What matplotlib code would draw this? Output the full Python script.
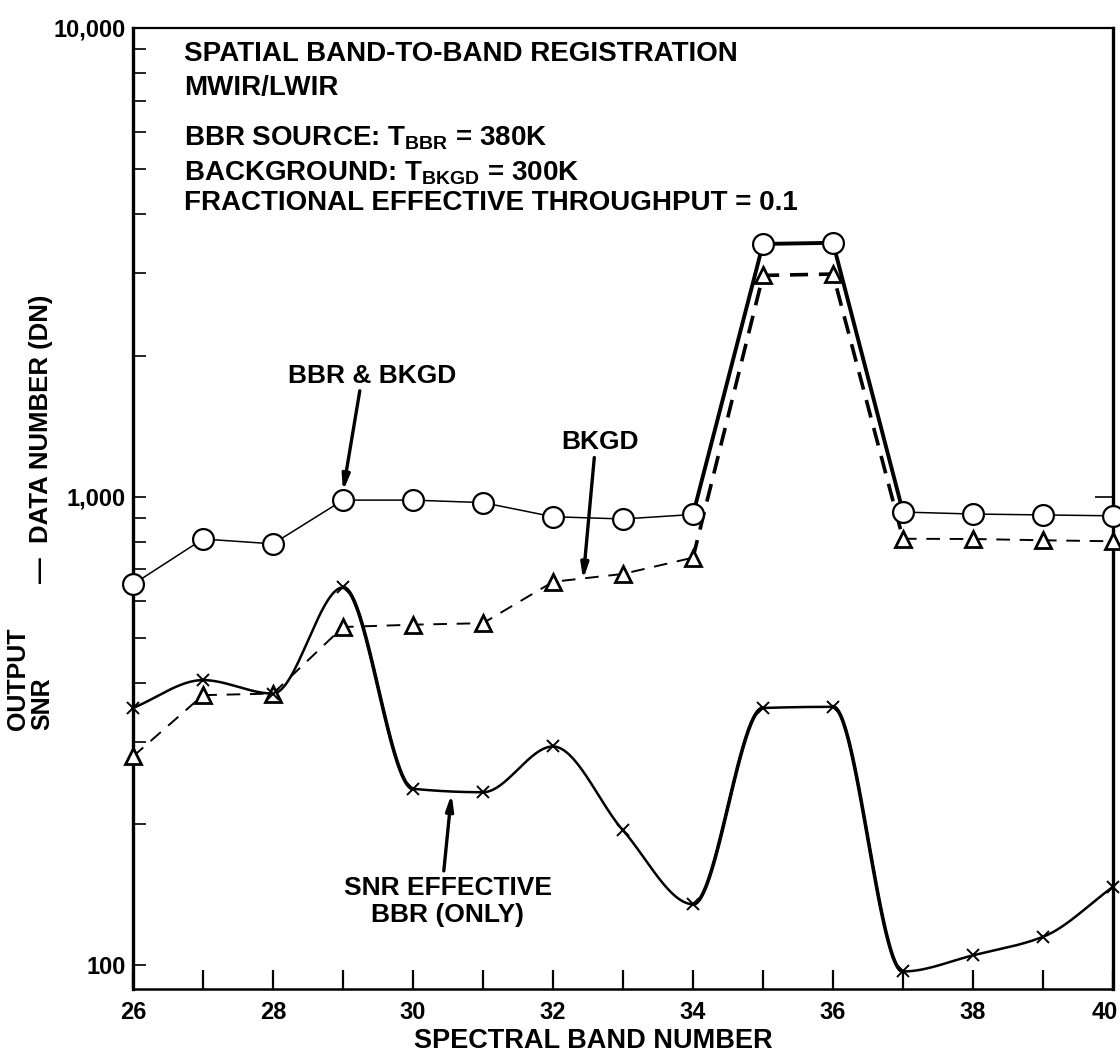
import numpy as np
import matplotlib
matplotlib.use("Agg")
import matplotlib.pyplot as plt
from matplotlib.ticker import FixedLocator, NullFormatter, NullLocator
from matplotlib.transforms import ScaledTranslation

plt.rcParams['font.family'] = ['Liberation Sans', 'DejaVu Sans']
plt.rcParams['font.weight'] = 'bold'

# spectral band numbers and the three output curves (DN / SNR)
bands = np.arange(26, 41)
bbr_bkgd = [650, 812, 793, 983, 983, 971, 906, 896, 916, 3461, 3480, 927, 918, 914, 910]
bkgd = [279, 377, 380, 527, 533, 537, 658, 684, 741, 2965, 2985, 813, 812, 807, 803]
snr = [354, 406, 380, 640, 238, 234, 293, 194, 135, 354, 356, 97, 105, 115, 147]

ytick_vals = [100, 1000, 10000]
ytick_text = ['100', '1,000', '10,000']
xtick_vals = [26, 28, 30, 32, 34, 36, 38, 40]

title_lines = [
    'SPATIAL BAND-TO-BAND REGISTRATION',
    'MWIR/LWIR',
    r'BBR SOURCE: T$_\mathregular{BBR}$ = 380K',
    r'BACKGROUND: T$_\mathregular{BKGD}$ = 300K',
    'FRACTIONAL EFFECTIVE THROUGHPUT = 0.1',
]


def pchip(x, y, xs):
    # monotone cubic through the points (Fritsch-Carlson slopes)
    x = np.asarray(x, float)
    y = np.asarray(y, float)
    h = np.diff(x)
    d = np.diff(y) / h
    m = np.zeros_like(y)
    m[0], m[-1] = d[0], d[-1]
    for i in range(1, len(x) - 1):
        if d[i - 1] * d[i] > 0:
            w1 = 2 * h[i] + h[i - 1]
            w2 = h[i] + 2 * h[i - 1]
            m[i] = (w1 + w2) / (w1 / d[i - 1] + w2 / d[i])
    idx = np.clip(np.searchsorted(x, xs) - 1, 0, len(x) - 2)
    t = (xs - x[idx]) / h[idx]
    h00 = 2 * t**3 - 3 * t**2 + 1
    h10 = t**3 - 2 * t**2 + t
    h01 = -2 * t**3 + 3 * t**2
    h11 = t**3 - t**2
    return (h00 * y[idx] + h10 * h[idx] * m[idx]
            + h01 * y[idx + 1] + h11 * h[idx] * m[idx + 1])


fig = plt.figure(figsize=(11.2, 10.52), dpi=100)
ax = fig.add_axes([0.11875, 0.0599, 0.875, 0.9135])
ax.set_yscale('log')
ax.set_xlim(26, 40)
ax.set_ylim(89, 10000)

# BBR & BKGD: thin solid, heavy over the 35-36 peak
ax.plot(bands[:9], bbr_bkgd[:9], color='k', lw=1.1, zorder=2)
ax.plot(bands[8:12], bbr_bkgd[8:12], color='k', lw=2.8, zorder=2)
ax.plot(bands[11:], bbr_bkgd[11:], color='k', lw=1.1, zorder=2)
ax.plot(bands, bbr_bkgd, ls='none', marker='o', ms=15, mfc='white',
        mec='k', mew=1.6, zorder=5, clip_on=False)

# BKGD: dashed
ax.plot(bands[:9], bkgd[:9], color='k', lw=1.4, dashes=(7, 5), zorder=2)
ax.plot(bands[8:12], bkgd[8:12], color='k', lw=2.6, dashes=(5, 3), zorder=2)
ax.plot(bands[11:], bkgd[11:], color='k', lw=1.4, dashes=(7, 5), zorder=2)
ax.plot(bands, bkgd, ls='none', marker='^', ms=12, mfc='white',
        mec='k', mew=2.0, zorder=4, clip_on=False)

# SNR effective BBR only: smooth curve in log space
xs = np.linspace(26, 40, 1400)
snr_curve = 10 ** pchip(bands, np.log10(snr), xs)
ax.plot(xs, snr_curve, color='k', lw=1.8, zorder=3)
for a, b in [(29, 30), (34, 35), (36, 37)]:
    sel = (xs >= a) & (xs <= b)
    ax.plot(xs[sel], snr_curve[sel], color='k', lw=2.6, zorder=3)
ax.plot(bands, snr, ls='none', marker='x', ms=9, mec='k', mew=1.4,
        zorder=6, clip_on=False)

# axes frame and ticks
for side, lw in [('left', 2.4), ('right', 2.4), ('bottom', 1.8), ('top', 1.6)]:
    ax.spines[side].set_linewidth(lw)

ax.xaxis.set_major_locator(FixedLocator(xtick_vals))
ax.xaxis.set_minor_locator(FixedLocator([27, 29, 31, 33, 35, 37, 39]))
ax.set_xticklabels([str(v) for v in xtick_vals])
ax.tick_params(axis='x', which='both', direction='in', length=14, width=1.6,
               pad=9, labelsize=17)
# keep the last band label inside the canvas
last = ax.get_xticklabels()[-1]
last.set_transform(last.get_transform()
                   + ScaledTranslation(-6 / 72, 0, fig.dpi_scale_trans))

ax.set_yticks(ytick_vals, labels=ytick_text)
minors = [k * 10 ** e for e in (2, 3) for k in range(2, 10)]
ax.yaxis.set_minor_locator(FixedLocator(minors))
ax.yaxis.set_minor_formatter(NullFormatter())
ax.tick_params(axis='y', which='both', direction='in', length=9, width=1.2,
               pad=5, labelsize=17)

sec = ax.secondary_yaxis('right')
sec.set_yticks([1000])
sec.set_yticklabels([])
sec.yaxis.set_minor_locator(NullLocator())
sec.tick_params(direction='in', length=13, width=1.2)
sec.spines['right'].set_visible(False)

# header block
header_y = [0.9657, 0.9303, 0.8782, 0.8418, 0.8105]
for line, yy in zip(title_lines, header_y):
    ax.text(0.052, yy, line, transform=ax.transAxes, fontsize=20,
            fontweight='bold', va='baseline', ha='left')

# curve call-outs
arrow = dict(arrowstyle='-|>,head_length=0.9,head_width=0.22', lw=2.4,
             color='k', shrinkA=0, shrinkB=0)
ax.text(0.2445, 0.638, 'BBR & BKGD', transform=ax.transAxes, fontsize=19,
        ha='center', va='center')
ax.annotate('', xy=(29.0, 1027), xytext=(29.24, 1682), arrowprops=arrow)

ax.text(0.4764, 0.5697, 'BKGD', transform=ax.transAxes, fontsize=19,
        ha='center', va='center')
ax.annotate('', xy=(32.43, 665), xytext=(32.59, 1212), arrowprops=arrow)

ax.text(0.321, 0.091, 'SNR EFFECTIVE\nBBR (ONLY)', transform=ax.transAxes,
        fontsize=19, ha='center', va='center', linespacing=1.2)
ax.annotate('', xy=(30.55, 232), xytext=(30.44, 159), arrowprops=arrow)

# axis titles
ax.text(0.47, -0.054, 'SPECTRAL BAND NUMBER', transform=ax.transAxes,
        fontsize=19.5, ha='center', va='center')
fig.text(30 / 1120, 1 - 730 / 1052, 'OUTPUT\nSNR', rotation=90, fontsize=18,
         ha='center', va='bottom', multialignment='left', linespacing=1.05)
fig.text(41 / 1120, 1 - 583 / 1052, '\u2014  DATA NUMBER (DN)', rotation=90,
         fontsize=18.5, ha='center', va='bottom')

fig.savefig('out.png', dpi=100)
